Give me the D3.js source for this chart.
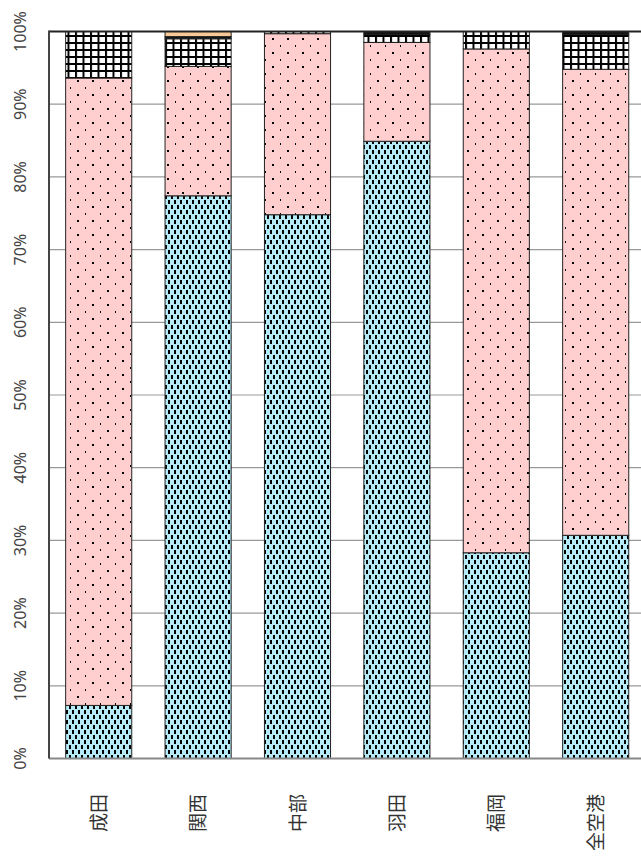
<!DOCTYPE html>
<html>
<head>
  <meta charset="utf-8">
  <title>空港別 構成比</title>
  <script src="https://d3js.org/d3.v7.min.js"></script>
  <style>
    body { margin: 0; background: #fff; }
    svg { display: block; }
    .ylab { font-family: "Noto Sans", "DejaVu Sans", sans-serif; font-size: 16px; fill: #444; }
    .xlab { font-family: "Noto Sans CJK JP", sans-serif; font-size: 19px; fill: #333; }
  </style>
</head>
<body>
  <svg width="641" height="858"></svg>

  <script>
    // categories and stacked shares (%)
    const airports = ["成田", "関西", "中部", "羽田", "福岡", "全空港"];
    const seriesKeys = ["s1", "s2", "s3", "s4", "s5"];
    const s1 = [7.3, 77.4, 74.8, 84.9, 28.3, 30.7];
    const s2 = [86.3, 17.8, 24.9, 13.6, 69.3, 64.1];
    const s3 = [6.4, 3.8, 0.3, 1.1, 2.4, 4.8];
    const s4 = [0, 0.3, 0, 0.4, 0, 0.4];
    const s5 = [0, 0.7, 0, 0, 0, 0];
    const yTicks = [0, 10, 20, 30, 40, 50, 60, 70, 80, 90, 100];

    const rows = airports.map((a, i) => ({ airport: a, s1: s1[i], s2: s2[i], s3: s3[i], s4: s4[i], s5: s5[i] }));

    const svg = d3.select("svg");
    const plotLeft = 49, plotRight = 645.4, plotTop = 31.5, plotBottom = 758.5;

    const x = d3.scaleBand().domain(airports).range([plotLeft, plotRight])
      .paddingInner(0.335).paddingOuter(0.1675);
    const y = d3.scaleLinear().domain([0, 100]).range([plotBottom, plotTop]);

    // patterns
    const defs = svg.append("defs");
    const p1 = defs.append("pattern").attr("id", "pat1").attr("patternUnits", "userSpaceOnUse")
      .attr("width", 6).attr("height", 10);
    p1.append("rect").attr("width", 6).attr("height", 10).attr("fill", "#b5ebf7");
    p1.append("rect").attr("x", 0).attr("y", 0).attr("width", 2).attr("height", 4).attr("fill", "#000");
    p1.append("rect").attr("x", 3).attr("y", 5).attr("width", 2).attr("height", 4).attr("fill", "#000");

    const p2 = defs.append("pattern").attr("id", "pat2").attr("patternUnits", "userSpaceOnUse")
      .attr("width", 15).attr("height", 14);
    p2.append("rect").attr("width", 15).attr("height", 14).attr("fill", "#ffcfcf");
    p2.append("rect").attr("x", 2).attr("y", 10).attr("width", 2).attr("height", 2).attr("fill", "#000");
    p2.append("rect").attr("x", 10).attr("y", 3).attr("width", 1).attr("height", 2).attr("fill", "#000");

    const p3 = defs.append("pattern").attr("id", "pat3").attr("patternUnits", "userSpaceOnUse")
      .attr("width", 7.5).attr("height", 7);
    p3.append("rect").attr("width", 7.5).attr("height", 7).attr("fill", "#fff");
    p3.append("rect").attr("x", 0).attr("y", 0).attr("width", 2).attr("height", 7).attr("fill", "#000");
    p3.append("rect").attr("x", 0).attr("y", 0).attr("width", 7.5).attr("height", 2).attr("fill", "#000");

    const fills = { s1: "url(#pat1)", s2: "url(#pat2)", s3: "url(#pat3)", s4: "#111", s5: "#f8c896" };

    // gridlines
    svg.append("g").selectAll("line").data(yTicks.filter(t => t > 0 && t < 100)).join("line")
      .attr("x1", plotLeft).attr("x2", 641)
      .attr("y1", d => y(d)).attr("y2", d => y(d))
      .attr("stroke", "#999").attr("stroke-width", 1.2);

    // stacked bars
    const stacked = d3.stack().keys(seriesKeys)(rows);
    svg.append("g").selectAll("g").data(stacked).join("g")
      .attr("fill", d => fills[d.key])
      .selectAll("rect").data(d => d.filter(v => v[1] - v[0] > 0)).join("rect")
      .attr("x", d => x(d.data.airport))
      .attr("width", x.bandwidth())
      .attr("y", d => y(d[1]))
      .attr("height", d => y(d[0]) - y(d[1]))
      .attr("stroke", "#222").attr("stroke-width", 1);

    // top line and axes
    svg.append("line").attr("x1", plotLeft).attr("x2", 641).attr("y1", y(100)).attr("y2", y(100))
      .attr("stroke", "#222").attr("stroke-width", 2);
    svg.append("line").attr("x1", plotLeft).attr("x2", 641).attr("y1", y(0)).attr("y2", y(0))
      .attr("stroke", "#888").attr("stroke-width", 2);
    svg.append("line").attr("x1", plotLeft).attr("x2", plotLeft).attr("y1", y(100) - 1).attr("y2", y(0))
      .attr("stroke", "#444").attr("stroke-width", 2);

    // y labels
    svg.append("g").selectAll("text").data(yTicks).join("text")
      .attr("class", "ylab")
      .attr("transform", d => `translate(26,${y(d)}) rotate(-90)`)
      .attr("text-anchor", "middle")
      .text(d => d + "%");

    // x labels (rotated)
    svg.append("g").selectAll("text").data(airports).join("text")
      .attr("class", "xlab")
      .attr("transform", d => `translate(${x(d) + x.bandwidth() / 2 + 7},794) rotate(-90)`)
      .attr("text-anchor", "end")
      .text(d => d);
  </script>
</body>
</html>
